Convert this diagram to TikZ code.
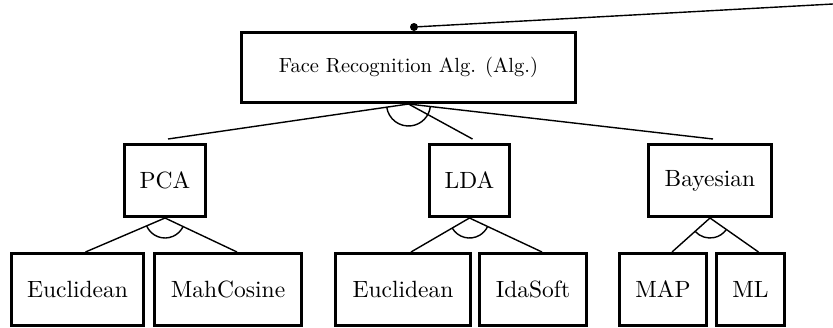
\documentclass[tikz,border=0pt]{standalone}
\usepackage{graphicx}
\usetikzlibrary{calc}
\newcommand{\bigtxt}[1]{\scalebox{2.35}{#1}}
\newcommand{\roottxt}[1]{\scalebox{2.05}{#1}}
\begin{document}
\begin{tikzpicture}[x=1pt,y=-1pt,
  box/.style={draw,line width=3pt,rectangle,inner sep=0pt},
  link/.style={line width=1.4pt},
  andarc/.style={line width=1.4pt}]
\useasboundingbox (0,0) rectangle (833,327);
% nodes
\node[box,minimum width=334pt,minimum height=70pt] (root) at (408.5,67.5) {\roottxt{Face Recognition Alg. (Alg.)}};
\node[box,minimum width=81pt,minimum height=72pt] (pca) at (165,180.5) {\bigtxt{PCA}};
\node[box,minimum width=80pt,minimum height=72pt] (lda) at (469.5,180.5) {\bigtxt{LDA}};
\node[box,minimum width=123pt,minimum height=72pt] (bay) at (710,180.5) {\bigtxt{Bayesian}};
\node[box,minimum width=132pt,minimum height=72pt] (e1) at (77.5,289.5) {\bigtxt{Euclidean}};
\node[box,minimum width=147pt,minimum height=72pt] (mah) at (228,289.5) {\bigtxt{MahCosine}};
\node[box,minimum width=135pt,minimum height=72pt] (e2) at (403,289.5) {\bigtxt{Euclidean}};
\node[box,minimum width=107pt,minimum height=72pt] (ida) at (533,289.5) {\bigtxt{IdaSoft}};
\node[box,minimum width=87pt,minimum height=72pt] (map) at (663,289.5) {\bigtxt{MAP}};
\node[box,minimum width=68pt,minimum height=72pt] (ml) at (750.5,289.5) {\bigtxt{ML}};
% top connector with dot
\node[circle,fill,inner sep=0pt,minimum size=8pt] (dot) at (414,27) {};
\coordinate (out) at (833,4);
\draw[link] (dot) -- (out);
% root decomposition
\draw[link] (root.south) -- ($(pca.north)+(3,-4)$);
\draw[link] (root.south) -- ($(lda.north)+(3,-4)$);
\draw[link] (root.south) -- ($(bay.north)+(3,-4)$);
\draw[andarc] ([shift={(188.3:22pt)}]root.south) arc[start angle=188.3,end angle=353.4,radius=22pt];
% PCA decomposition
\draw[link] (pca.south) -- ($(e1.north)+(8,0)$);
\draw[link] (pca.south) -- ($(mah.north)+(9,0)$);
\draw[andarc] ([shift={(203.9:20pt)}]pca.south) arc[start angle=203.9,end angle=334.1,radius=20pt];
% LDA decomposition
\draw[link] (lda.south) -- ($(e2.north)+(8,0)$);
\draw[link] (lda.south) -- ($(ida.north)+(9,0)$);
\draw[andarc] ([shift={(210.9:20pt)}]lda.south) arc[start angle=210.9,end angle=334.2,radius=20pt];
% Bayesian decomposition
\draw[link] (bay.south) -- ($(map.north)+(9,0)$);
\draw[link] (bay.south) -- ($(ml.north)+(8,0)$);
\draw[andarc] ([shift={(222.6:20pt)}]bay.south) arc[start angle=222.6,end angle=323.9,radius=20pt];
\end{tikzpicture}
\end{document}
